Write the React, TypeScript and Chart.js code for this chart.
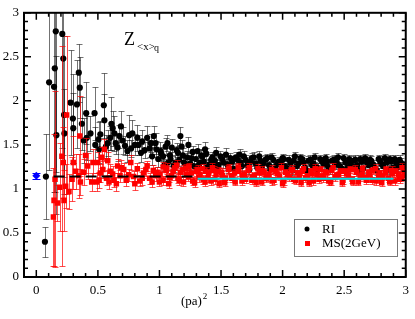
import React, { useEffect, useRef } from "react";
import { Chart, registerables } from "chart.js";

Chart.register(...registerables);

// ---------- data : RI (first branch) ----------
const riX = [
  0.070, 0.078, 0.104, 0.144, 0.150, 0.158, 0.163, 0.211, 0.219, 0.225, 0.228, 0.278, 0.297, 0.300, 0.330,
  0.345, 0.353, 0.370, 0.385, 0.405, 0.410, 0.440, 0.473, 0.479, 0.505, 0.510, 0.548, 0.553, 0.580, 0.610,
  0.620, 0.634, 0.660, 0.687, 0.700, 0.740, 0.754, 0.780, 0.800, 0.820, 0.850, 0.860, 0.900, 0.920, 0.940,
  0.954, 0.968, 0.990, 1.008, 1.030, 1.050, 1.070, 1.090, 1.100, 1.130, 1.150, 1.170, 1.190, 1.210, 1.235,
  1.260, 1.280, 1.310, 1.330, 1.350, 1.370, 1.390, 1.420, 1.440, 1.460, 1.480, 1.510, 1.540, 1.560, 1.590,
  1.620, 1.650, 1.670, 1.700, 1.730, 1.750, 1.780, 1.810, 1.830, 1.860, 1.890, 1.910, 1.940, 1.970, 2.000,
  2.020, 2.050, 2.080, 2.100, 2.130, 2.160, 2.180, 2.210, 2.240, 2.260, 2.290, 2.320, 2.350, 2.370, 2.400,
  2.430, 2.450, 2.480, 2.510, 2.540, 2.560, 2.590, 2.620, 2.640, 2.670, 2.700, 2.720, 2.750, 2.780, 2.800,
  2.830, 2.860, 2.880, 2.910, 2.940, 2.960, 2.990,
];
const riY = [
  0.40, 1.14, 2.21, 2.16, 2.37, 2.79, 1.61, 2.76, 2.48, 1.84, 1.63, 1.98, 1.80, 1.69, 1.96,
  2.32, 2.15, 1.74, 1.55, 1.86, 1.58, 1.63, 1.86, 1.50, 1.56, 1.45, 1.95, 1.78, 1.52, 1.74,
  1.69, 1.63, 1.47, 1.71, 1.55, 1.43, 1.61, 1.63, 1.50, 1.58, 1.41, 1.54, 1.58, 1.46, 1.37,
  1.60, 1.52, 1.34, 1.43, 1.37, 1.48, 1.30, 1.34, 1.47, 1.30, 1.41, 1.60, 1.38, 1.28, 1.50,
  1.35, 1.26, 1.43, 1.30, 1.37, 1.45, 1.25, 1.33, 1.28, 1.41, 1.27, 1.34, 1.39, 1.24, 1.31,
  1.36, 1.39, 1.26, 1.33, 1.22, 1.35, 1.29, 1.37, 1.24, 1.33, 1.27, 1.36, 1.23, 1.31, 1.35,
  1.25, 1.33, 1.21, 1.37, 1.29, 1.34, 1.24, 1.32, 1.27, 1.36, 1.22, 1.31, 1.35, 1.25, 1.32,
  1.28, 1.36, 1.23, 1.30, 1.34, 1.26, 1.33, 1.21, 1.31, 1.35, 1.27, 1.32, 1.24, 1.34, 1.29,
  1.35, 1.22, 1.31, 1.34, 1.25, 1.30, 1.21,
];
const riErr = [
  0.17, 0.48, 1.00, 1.20, 1.40, 1.60, 0.90, 1.30, 1.10, 0.90, 0.50, 0.60, 0.50, 0.40, 0.50,
  0.33, 0.35, 0.30, 0.25, 0.35, 0.25, 0.20, 0.30, 0.20, 0.20, 0.15, 0.37, 0.30, 0.15, 0.30,
  0.20, 0.20, 0.15, 0.18, 0.15, 0.12, 0.23, 0.15, 0.12, 0.15, 0.10, 0.13, 0.13, 0.10, 0.10,
  0.12, 0.12, 0.09, 0.10, 0.10, 0.10, 0.08, 0.08, 0.10, 0.08, 0.08, 0.10, 0.08, 0.07, 0.09,
  0.07, 0.07, 0.08, 0.07, 0.07, 0.08, 0.06, 0.07, 0.06, 0.07, 0.06, 0.06, 0.07, 0.06, 0.06,
  0.06, 0.06, 0.06, 0.06, 0.05, 0.06, 0.05, 0.06, 0.05, 0.05, 0.05, 0.05, 0.05, 0.05, 0.05,
  0.05, 0.05, 0.05, 0.05, 0.05, 0.05, 0.05, 0.05, 0.05, 0.05, 0.05, 0.05, 0.05, 0.05, 0.05,
  0.05, 0.05, 0.05, 0.05, 0.05, 0.05, 0.05, 0.05, 0.05, 0.05, 0.05, 0.05, 0.05, 0.05, 0.05,
  0.05, 0.05, 0.05, 0.05, 0.05, 0.05, 0.05,
];

// ---------- data : RI (second branch) ----------
const riBX = [
  0.520, 0.565, 0.600, 0.645, 0.675, 0.720, 0.770, 0.830, 0.880, 0.930, 0.975,
  1.015, 1.040, 1.065, 1.085, 1.115, 1.140, 1.160, 1.180, 1.200, 1.225,
  1.250, 1.270, 1.295, 1.320, 1.340, 1.360, 1.380, 1.405, 1.430, 1.450,
  1.470, 1.495, 1.520, 1.550, 1.575, 1.600, 1.635, 1.660, 1.685, 1.715,
  1.740, 1.765, 1.795, 1.820, 1.845, 1.875, 1.900, 1.925, 1.955, 1.985,
  2.010, 2.035, 2.065, 2.090, 2.115, 2.145, 2.170, 2.195, 2.225, 2.250,
  2.275, 2.305, 2.335, 2.360, 2.385, 2.415, 2.440, 2.465, 2.495, 2.525,
  2.550, 2.575, 2.605, 2.630, 2.655, 2.685, 2.710, 2.735, 2.765, 2.790,
  2.815, 2.845, 2.870, 2.895, 2.925, 2.950, 2.975,
];
const riBY = [
  1.62, 1.48, 1.58, 1.52, 1.60, 1.49, 1.46, 1.50, 1.44, 1.52, 1.45,
  1.40, 1.27, 1.52, 1.38, 1.26, 1.44, 1.33, 1.48, 1.30, 1.36,
  1.29, 1.42, 1.34, 1.27, 1.38, 1.31, 1.40, 1.28, 1.36, 1.32,
  1.25, 1.37, 1.30, 1.28, 1.35, 1.23, 1.33, 1.30, 1.37, 1.27,
  1.31, 1.36, 1.24, 1.32, 1.29, 1.35, 1.22, 1.33, 1.28, 1.30,
  1.34, 1.23, 1.29, 1.32, 1.26, 1.35, 1.30, 1.21, 1.33, 1.29,
  1.25, 1.34, 1.28, 1.31, 1.22, 1.33, 1.30, 1.26, 1.35, 1.24,
  1.29, 1.32, 1.27, 1.34, 1.23, 1.30, 1.33, 1.28, 1.21, 1.32,
  1.26, 1.30, 1.34, 1.24, 1.29, 1.33, 1.27,
];
const riBErr = [
  0.15, 0.13, 0.14, 0.12, 0.13, 0.11, 0.10, 0.11, 0.09, 0.10, 0.09,
  0.08, 0.07, 0.09, 0.08, 0.07, 0.08, 0.07, 0.08, 0.07, 0.07,
  0.07, 0.07, 0.07, 0.06, 0.07, 0.06, 0.07, 0.06, 0.06, 0.06,
  0.06, 0.06, 0.06, 0.06, 0.06, 0.05, 0.06, 0.05, 0.06, 0.05,
  0.05, 0.06, 0.05, 0.05, 0.05, 0.05, 0.05, 0.05, 0.05, 0.05,
  0.05, 0.05, 0.05, 0.05, 0.05, 0.05, 0.05, 0.05, 0.05, 0.05,
  0.05, 0.05, 0.05, 0.05, 0.05, 0.05, 0.05, 0.05, 0.05, 0.05,
  0.05, 0.05, 0.05, 0.05, 0.05, 0.05, 0.05, 0.05, 0.05, 0.05,
  0.05, 0.05, 0.05, 0.05, 0.05, 0.05, 0.05,
];

// ---------- data : MS(2GeV) (first branch) ----------
const msX = [
  0.139, 0.144, 0.152, 0.171, 0.190, 0.208, 0.219, 0.225, 0.238, 0.246, 0.265, 0.290, 0.300, 0.320, 0.345,
  0.353, 0.358, 0.385, 0.400, 0.417, 0.450, 0.460, 0.490, 0.500, 0.520, 0.530, 0.553, 0.570, 0.580, 0.600,
  0.630, 0.660, 0.680, 0.710, 0.730, 0.767, 0.790, 0.820, 0.840, 0.870, 0.900, 0.920, 0.950, 0.980, 1.000,
  1.030, 1.060, 1.080, 1.110, 1.140, 1.160, 1.190, 1.220, 1.240, 1.270, 1.300, 1.320, 1.350, 1.370, 1.400,
  1.430, 1.450, 1.480, 1.510, 1.530, 1.560, 1.590, 1.610, 1.640, 1.670, 1.690, 1.720, 1.750, 1.770, 1.800,
  1.830, 1.850, 1.880, 1.910, 1.930, 1.960, 1.990, 2.010, 2.040, 2.070, 2.090, 2.120, 2.150, 2.170, 2.200,
  2.230, 2.250, 2.280, 2.310, 2.330, 2.360, 2.390, 2.410, 2.440, 2.470, 2.490, 2.520, 2.550, 2.570, 2.600,
  2.630, 2.650, 2.680, 2.710, 2.730, 2.760, 2.790, 2.810, 2.840, 2.870, 2.890, 2.920, 2.950, 2.970, 2.990,
];
const msY = [
  0.68, 0.87, 1.11, 0.84, 1.02, 1.37, 1.30, 0.87, 1.03, 1.84, 0.97, 1.11, 1.30, 1.20, 1.15,
  1.60, 1.08, 1.19, 1.38, 1.26, 1.08, 1.30, 1.08, 1.30, 1.18, 1.36, 1.45, 1.12, 1.32, 1.20,
  1.10, 1.26, 1.15, 1.22, 1.10, 1.30, 1.14, 1.23, 1.09, 1.18, 1.26, 1.12, 1.21, 1.19, 1.08,
  1.25, 1.23, 1.13, 1.20, 1.27, 1.10, 1.22, 1.16, 1.25, 1.09, 1.20, 1.13, 1.23, 1.08, 1.18,
  1.24, 1.11, 1.20, 1.15, 1.07, 1.22, 1.12, 1.18, 1.25, 1.09, 1.17, 1.21, 1.10, 1.15, 1.23,
  1.08, 1.19, 1.13, 1.22, 1.10, 1.17, 1.24, 1.09, 1.16, 1.21, 1.11, 1.18, 1.07, 1.23, 1.14,
  1.20, 1.09, 1.16, 1.22, 1.12, 1.18, 1.08, 1.24, 1.15, 1.20, 1.10, 1.17, 1.22, 1.08, 1.19,
  1.13, 1.23, 1.10, 1.16, 1.21, 1.09, 1.18, 1.14, 1.22, 1.08, 1.17, 1.20, 1.11, 1.24, 1.15,
];
const msErr = [
  0.56, 0.75, 1.00, 0.20, 0.50, 1.25, 0.40, 0.35, 0.25, 0.90, 0.20, 0.25, 0.30, 0.20, 0.25,
  0.45, 0.15, 0.15, 0.20, 0.15, 0.10, 0.15, 0.10, 0.12, 0.10, 0.12, 0.12, 0.08, 0.10, 0.08,
  0.08, 0.08, 0.07, 0.08, 0.07, 0.08, 0.06, 0.07, 0.06, 0.06, 0.06, 0.06, 0.06, 0.06, 0.05,
  0.06, 0.06, 0.05, 0.05, 0.06, 0.05, 0.05, 0.05, 0.05, 0.05, 0.05, 0.05, 0.05, 0.05, 0.05,
  0.05, 0.05, 0.05, 0.05, 0.04, 0.05, 0.04, 0.05, 0.05, 0.04, 0.04, 0.05, 0.04, 0.04, 0.05,
  0.04, 0.04, 0.04, 0.05, 0.04, 0.04, 0.05, 0.04, 0.04, 0.04, 0.04, 0.04, 0.04, 0.05, 0.04,
  0.04, 0.04, 0.04, 0.04, 0.04, 0.04, 0.04, 0.05, 0.04, 0.04, 0.04, 0.04, 0.04, 0.04, 0.04,
  0.04, 0.04, 0.04, 0.04, 0.04, 0.04, 0.04, 0.04, 0.04, 0.04, 0.04, 0.04, 0.04, 0.05, 0.04,
];

// ---------- data : MS(2GeV) (second branch) ----------
const msBX = [
  0.510, 0.540, 0.590, 0.620, 0.650, 0.690, 0.750, 0.800, 0.860, 0.890, 0.940, 0.970,
  1.005, 1.030, 1.055, 1.075, 1.100, 1.125, 1.150, 1.170, 1.195, 1.215,
  1.235, 1.260, 1.285, 1.310, 1.330, 1.355, 1.375, 1.395, 1.420, 1.440,
  1.460, 1.485, 1.505, 1.535, 1.565, 1.585, 1.615, 1.645, 1.675, 1.700,
  1.730, 1.755, 1.785, 1.810, 1.835, 1.865, 1.890, 1.915, 1.945, 1.975,
  2.000, 2.025, 2.055, 2.080, 2.105, 2.135, 2.160, 2.185, 2.215, 2.240,
  2.265, 2.295, 2.320, 2.345, 2.375, 2.400, 2.425, 2.455, 2.485, 2.510,
  2.535, 2.565, 2.590, 2.615, 2.645, 2.675, 2.700, 2.725, 2.755, 2.780,
  2.805, 2.835, 2.860, 2.885, 2.910, 2.940, 2.965, 2.985,
];
const msBY = [
  1.10, 1.22, 1.08, 1.17, 1.06, 1.24, 1.16, 1.06, 1.12, 1.22, 1.08, 1.15,
  1.17, 1.10, 1.21, 1.06, 1.15, 1.24, 1.12, 1.19, 1.08, 1.23,
  1.14, 1.18, 1.07, 1.22, 1.16, 1.11, 1.20, 1.13, 1.09, 1.21,
  1.16, 1.06, 1.19, 1.12, 1.23, 1.14, 1.08, 1.20, 1.15, 1.11,
  1.24, 1.13, 1.07, 1.18, 1.21, 1.12, 1.16, 1.09, 1.20, 1.14,
  1.06, 1.19, 1.13, 1.22, 1.10, 1.15, 1.20, 1.12, 1.07, 1.17,
  1.23, 1.11, 1.14, 1.19, 1.09, 1.21, 1.13, 1.16, 1.07, 1.20,
  1.15, 1.11, 1.22, 1.08, 1.17, 1.13, 1.19, 1.10, 1.23, 1.14,
  1.07, 1.18, 1.12, 1.21, 1.09, 1.16, 1.13, 1.19,
];
const msBErr = [
  0.09, 0.10, 0.08, 0.09, 0.08, 0.09, 0.07, 0.07, 0.07, 0.07, 0.06, 0.06,
  0.05, 0.05, 0.06, 0.05, 0.05, 0.06, 0.05, 0.05, 0.05, 0.05,
  0.05, 0.05, 0.05, 0.05, 0.05, 0.05, 0.05, 0.05, 0.05, 0.05,
  0.05, 0.04, 0.05, 0.04, 0.05, 0.04, 0.04, 0.05, 0.04, 0.04,
  0.05, 0.04, 0.04, 0.04, 0.05, 0.04, 0.04, 0.04, 0.04, 0.04,
  0.04, 0.04, 0.04, 0.05, 0.04, 0.04, 0.04, 0.04, 0.04, 0.04,
  0.05, 0.04, 0.04, 0.04, 0.04, 0.04, 0.04, 0.04, 0.04, 0.04,
  0.04, 0.04, 0.05, 0.04, 0.04, 0.04, 0.04, 0.04, 0.05, 0.04,
  0.04, 0.04, 0.04, 0.05, 0.04, 0.04, 0.04, 0.04,
];

// ---------- reference point and fit lines ----------
const refX = [0];
const refY = [1.15];
const refErr = [0.035];

const dashX = [0.14, 1.31];
const dashY = [1.14, 1.14];
const cyanX = [1.31, 2.9];
const cyanY = [1.115, 1.115];

const xTicks = [0, 0.5, 1, 1.5, 2, 2.5, 3];
const yTicks = [0, 0.5, 1, 1.5, 2, 2.5, 3];
const minorStep = 0.1;

const legendLabels = ["RI", "MS(2GeV)"];

const SERIF = "'Liberation Serif', 'Times New Roman', serif";

const pts = (xs: number[], ys: number[]) => xs.map((x, i) => ({ x, y: ys[i] }));

// ---------- plugins ----------
const errorBarPlugin = {
  id: "errorBars",
  beforeDatasetDraw(chart: any, args: any) {
    const ds = chart.data.datasets[args.index];
    if (!ds.errors) return;
    const ys = chart.scales.y;
    const ctx = chart.ctx;
    const a = chart.chartArea;
    ctx.save();
    ctx.beginPath();
    ctx.rect(a.left, a.top, a.right - a.left, a.bottom - a.top);
    ctx.clip();
    ctx.strokeStyle = ds.errorColor;
    ctx.lineWidth = 1;
    const cap = ds.capHalf || 3;
    args.meta.data.forEach((el: any, i: number) => {
      const v = ds.data[i].y;
      const e = ds.errors[i];
      const px = Math.round(el.x) + 0.5;
      const t = Math.round(ys.getPixelForValue(v + e)) + 0.5;
      const b = Math.round(ys.getPixelForValue(v - e)) + 0.5;
      ctx.beginPath();
      ctx.moveTo(px, t);
      ctx.lineTo(px, b);
      ctx.moveTo(px - cap, t);
      ctx.lineTo(px + cap, t);
      ctx.moveTo(px - cap, b);
      ctx.lineTo(px + cap, b);
      ctx.stroke();
    });
    ctx.restore();
  },
};

const framePlugin = {
  id: "frame",
  afterDraw(chart: any) {
    const ctx = chart.ctx;
    const a = chart.chartArea;
    const xs = chart.scales.x;
    const ys = chart.scales.y;
    ctx.save();
    ctx.strokeStyle = "#000";
    ctx.lineWidth = 2;
    ctx.strokeRect(a.left, a.top, a.right - a.left, a.bottom - a.top);

    ctx.lineWidth = 1.5;
    const major = 7;
    const minor = 4;
    const isMajor = (v: number) => Math.abs(v / 0.5 - Math.round(v / 0.5)) < 1e-6;
    for (let i = 0; i <= 30; i++) {
      const v = i * minorStep;
      const px = xs.getPixelForValue(v);
      const len = isMajor(v) ? major : minor;
      ctx.beginPath();
      ctx.moveTo(px, a.bottom);
      ctx.lineTo(px, a.bottom - len);
      ctx.moveTo(px, a.top);
      ctx.lineTo(px, a.top + len);
      ctx.stroke();
    }
    for (let i = 0; i <= 30; i++) {
      const v = i * minorStep;
      const py = ys.getPixelForValue(v);
      const len = isMajor(v) ? major : minor;
      ctx.beginPath();
      ctx.moveTo(a.left, py);
      ctx.lineTo(a.left + len, py);
      ctx.moveTo(a.right, py);
      ctx.lineTo(a.right - len, py);
      ctx.stroke();
    }

    // axis title (pa)^2
    ctx.fillStyle = "#000";
    ctx.textBaseline = "alphabetic";
    ctx.textAlign = "left";
    ctx.font = `13px ${SERIF}`;
    const cx = (a.left + a.right) / 2 - 34;
    ctx.fillText("(pa)", cx, 305);
    const w = ctx.measureText("(pa)").width;
    ctx.font = `9px ${SERIF}`;
    ctx.fillText("2", cx + w + 1, 299);

    // in-plot label Z_<x>_q
    ctx.font = `18px ${SERIF}`;
    ctx.fillText("Z", 124, 45);
    ctx.font = `11px ${SERIF}`;
    ctx.fillText("<x>", 137, 50);
    ctx.font = `10px ${SERIF}`;
    ctx.fillText("q", 154, 51);

    // legend box
    const ds = chart.data.datasets;
    ctx.strokeStyle = "#777";
    ctx.lineWidth = 1;
    ctx.strokeRect(294.5, 219.5, 103, 37);
    ctx.font = `13px ${SERIF}`;
    ctx.textBaseline = "middle";
    ctx.fillStyle = ds[0].backgroundColor;
    ctx.beginPath();
    ctx.arc(307, 229, 2.5, 0, Math.PI * 2);
    ctx.fill();
    ctx.fillStyle = ds[1].backgroundColor;
    ctx.fillRect(305, 241, 5, 5);
    ctx.fillStyle = "#000";
    ctx.fillText(legendLabels[0], 322, 230);
    ctx.fillText(legendLabels[1], 322, 244);
    ctx.restore();
  },
};

export default function App() {
  const ref = useRef<HTMLCanvasElement | null>(null);
  useEffect(() => {
    document.body.style.margin = "0";
    if (!ref.current) return;
    const tickFont = { family: SERIF, size: 13 };
    const chart = new Chart(ref.current, {
      type: "scatter",
      data: {
        datasets: [
          {
            label: legendLabels[0],
            data: pts([...riX, ...riBX], [...riY, ...riBY]),
            errors: [...riErr, ...riBErr],
            errorColor: "rgba(0,0,0,0.55)",
            capHalf: 3,
            backgroundColor: "#000000",
            borderWidth: 0,
            pointStyle: "circle",
            pointRadius: 3.1,
            order: 3,
          } as any,
          {
            label: legendLabels[1],
            data: pts([...msX, ...msBX], [...msY, ...msBY]),
            errors: [...msErr, ...msBErr],
            errorColor: "rgba(255,0,0,0.7)",
            capHalf: 3,
            backgroundColor: "#ff0000",
            borderWidth: 0,
            pointStyle: "rect",
            pointRadius: 3.9,
            order: 2,
          } as any,
          {
            label: "ref",
            data: pts(refX, refY),
            errors: refErr,
            errorColor: "#0000ff",
            capHalf: 4,
            backgroundColor: "#0000ff",
            borderWidth: 0,
            pointStyle: "rectRot",
            pointRadius: 4,
            order: 1,
          } as any,
          {
            label: "fitRI",
            data: pts(dashX, dashY),
            showLine: true,
            borderColor: "#000000",
            borderWidth: 2,
            borderDash: [11, 5],
            pointRadius: 0,
            order: 0,
          } as any,
          {
            label: "fitMS",
            data: pts(cyanX, cyanY),
            showLine: true,
            borderColor: "#00e0e8",
            borderWidth: 2,
            pointRadius: 0,
            order: 0,
          } as any,
        ],
      },
      options: {
        animation: false,
        responsive: false,
        maintainAspectRatio: false,
        layout: { padding: { left: 0, top: 7, right: 5, bottom: 0 } },
        plugins: { legend: { display: false }, tooltip: { enabled: false } },
        scales: {
          x: {
            type: "linear",
            min: -0.1,
            max: 3,
            afterBuildTicks: (s: any) => {
              s.ticks = xTicks.map((v) => ({ value: v }));
            },
            afterFit: (s: any) => {
              s.height = 42;
            },
            ticks: {
              font: tickFont,
              color: "#000",
              padding: 6,
              maxRotation: 0,
              autoSkip: false,
              includeBounds: false,
              callback: (v: any) => String(v),
            },
            grid: { display: false, drawTicks: false },
            border: { display: false },
          },
          y: {
            type: "linear",
            min: 0,
            max: 3,
            afterBuildTicks: (s: any) => {
              s.ticks = yTicks.map((v) => ({ value: v }));
            },
            afterFit: (s: any) => {
              s.width = 24;
            },
            ticks: {
              font: tickFont,
              color: "#000",
              padding: 5,
              autoSkip: false,
              includeBounds: false,
              callback: (v: any) => String(v),
            },
            grid: { display: false, drawTicks: false },
            border: { display: false },
          },
        },
      } as any,
      plugins: [errorBarPlugin, framePlugin],
    });
    return () => chart.destroy();
  }, []);
  return (
    <div style={{ width: 415, height: 319 }}>
      <canvas ref={ref} width={415} height={319} style={{ display: "block", width: 415, height: 319 }} />
    </div>
  );
}
